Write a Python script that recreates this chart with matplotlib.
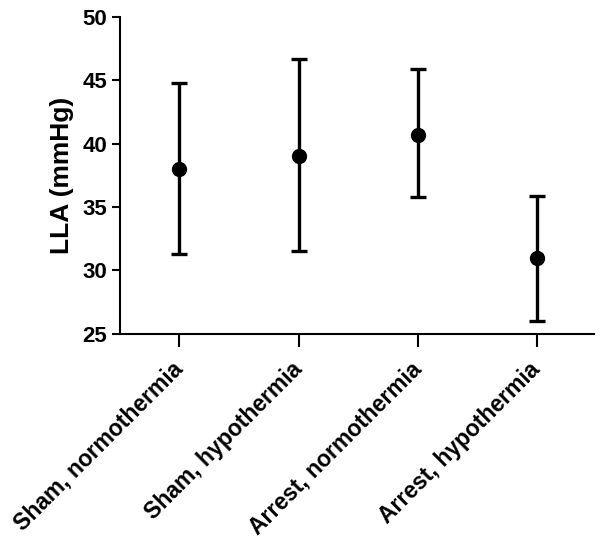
import numpy as np
import matplotlib
matplotlib.use('Agg')
from matplotlib import pyplot as plt

groups = ['Sham, normothermia', 'Sham, hypothermia',
          'Arrest, normothermia', 'Arrest, hypothermia']
mean_lla = [38.0, 39.0, 40.7, 31.0]
upper = [44.8, 46.7, 45.9, 35.9]
lower = [31.3, 31.5, 35.8, 26.0]
yticks = [25, 30, 35, 40, 45, 50]

plt.rcParams['font.family'] = ['Liberation Sans', 'DejaVu Sans']
plt.rcParams['font.weight'] = 'bold'

x = np.arange(len(groups))
m = np.array(mean_lla)
err = [m - np.array(lower), np.array(upper) - m]

fig = plt.figure(figsize=(6.02, 5.48), dpi=100)
ax = fig.add_axes([0.199, 0.391, 0.788, 0.578])

ax.errorbar(x, m, yerr=err, fmt='o', color='black', ms=10,
            elinewidth=2.4, capsize=6, capthick=2.4)

ax.set_xlim(-0.5, 3.48)
ax.set_ylim(25, 50)
ax.set_yticks(yticks)
ax.set_xticks(x)
ax.set_xticklabels(groups, rotation=45, ha='right', va='center',
                   rotation_mode='anchor', fontsize=16.5, fontweight='bold')
ax.tick_params(axis='y', labelsize=16, width=1.5, length=6, pad=3)
ax.tick_params(axis='x', width=1.5, length=9, pad=14)
ax.set_ylabel('LLA (mmHg)', fontsize=19, fontweight='bold', labelpad=6)

for s in ['top', 'right']:
    ax.spines[s].set_visible(False)
for s in ['left', 'bottom']:
    ax.spines[s].set_linewidth(1.5)

fig.savefig('out.png', dpi=100)
